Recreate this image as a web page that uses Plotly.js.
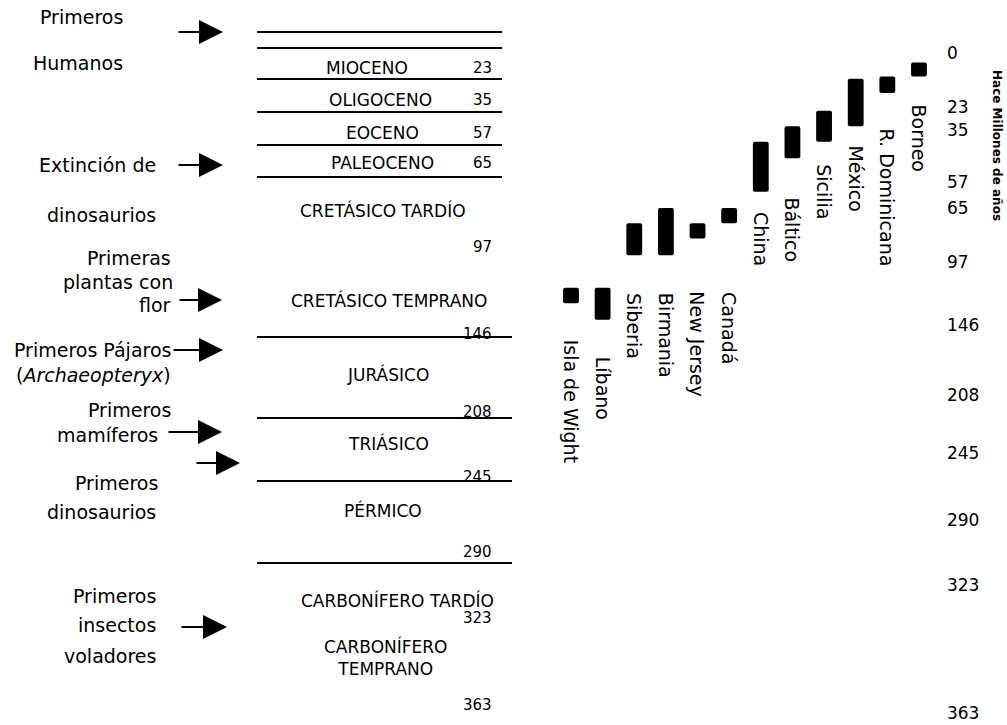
<!DOCTYPE html>
<html>
<head>
<meta charset="utf-8">
<script src="https://cdn.plot.ly/plotly-3.0.1.min.js"></script>
<style>html,body{margin:0;padding:0;background:#fff;}#chart{width:1007px;height:725px;}</style>
</head>
<body>
<div id="chart"></div>
<script>
// ---------------- DATA ----------------
// Amber deposits (left to right) and their age ranges, in millions of years
const deposits = ["Isla de Wight","Líbano","Siberia","Birmania","New Jersey","Canadá","China","Báltico","Sicilia","México","R. Dominicana","Borneo"];
const depositYoung = [117,117,74,65,74,65,40,33,25,11,10,4];
const depositOld   = [129,142,93,93,83,74,60,47,40,33,17,10];

// Age scale (right axis tick labels), Ma
const ageTicks = [0,23,35,57,65,97,146,208,245,290,323,363];

// Geological periods and the age of their base, Ma
const periods = ["MIOCENO","OLIGOCENO","EOCENO","PALEOCENO","CRETÁSICO TARDÍO","CRETÁSICO TEMPRANO","JURÁSICO","TRIÁSICO","PÉRMICO","CARBONÍFERO TARDÍO","CARBONÍFERO<br>TEMPRANO"];
const periodBase = [23,35,57,65,97,146,208,245,290,323,363];

// Events (text lines)
const eventLines = [
  ["Primeros","Humanos"],
  ["Extinción de","dinosaurios"],
  ["Primeras","plantas con","flor"],
  ["Primeros Pájaros","(<i>Archaeopteryx</i>)"],
  ["Primeros","mamíferos"],
  ["Primeros","dinosaurios"],
  ["Primeros","insectos","voladores"]
];
const axisTitle = "Hace Millones de años";

// ---------------- LAYOUT CONSTANTS (screen rows, px) ----------------
const TICK_ROW = [53,107,130,182,208,262,325,395,453,520,585,713];   // row of each age tick
function toAxis(age){
  for(let i=0;i<ageTicks.length-1;i++){
    if(age<=ageTicks[i+1]){
      const f=(age-ageTicks[i])/(ageTicks[i+1]-ageTicks[i]);
      return TICK_ROW[i]+f*(TICK_ROW[i+1]-TICK_ROW[i]);
    }
  }
  return TICK_ROW[TICK_ROW.length-1];
}
const LABEL_GAP = [35,35,36,36,51,67,18,37,20,17,34,26];
// left column rows: name x/y, number y, boundary line y (null = no line)
const ROWS = [
  {nx:367,ny:68,my:68,ly:79},{nx:380,ny:100,my:100,ly:112},{nx:382,ny:133,my:133,ly:145},
  {nx:382,ny:163,my:163,ly:177},{nx:383,ny:210,my:247,ly:null},{nx:389,ny:300,my:334,ly:337},
  {nx:388,ny:374,my:412,ly:418},{nx:388,ny:443,my:477,ly:481},{nx:383,ny:510,my:552,ly:563},
  {nx:397,ny:600,my:618,ly:null},{nx:386,ny:657,my:705,ly:null}
];
const TOP_LINES = [32,48];
const EVENT_POS = [
  [{x:81,y:17,a:'center'},{x:78,y:63,a:'center'}],
  [{x:158,y:165,a:'right'},{x:158,y:215,a:'right'}],
  [{x:173,y:258,a:'right'},{x:175,y:282,a:'right'},{x:173,y:305,a:'right'}],
  [{x:173,y:350,a:'right'},{x:173,y:375,a:'right'}],
  [{x:173,y:410,a:'right'},{x:160,y:435,a:'right'}],
  [{x:160,y:483,a:'right'},{x:158,y:512,a:'right'}],
  [{x:158,y:596,a:'right'},{x:158,y:625,a:'right'},{x:158,y:656,a:'right'}]
];
const ARROWS = [[177,223,32],[177,223,165],[178,222,300],[172,223,350],[167,222,432],[195,240,463],[180,227,627]];

const FONT = "DejaVu Sans, Verdana, sans-serif";

// ---------------- TRACES ----------------
const bars = {
  type:'bar', x:deposits,
  base: depositYoung.map(toAxis),
  y: depositOld.map((o,i)=>toAxis(o)-toAxis(depositYoung[i])),
  width:0.5, marker:{color:'#000', line:{width:0}, cornerradius:2},
  xaxis:'x', yaxis:'y', hoverinfo:'skip'
};

const lx=[], ly=[];
TOP_LINES.forEach(y=>{lx.push(257,502,null); ly.push(y,y,null);});
ROWS.forEach((r,i)=>{ if(r.ly!==null){ const x1 = periodBase[i]>100?512:502; lx.push(257,x1,null); ly.push(r.ly,r.ly,null);} });
const lines = {type:'scatter', mode:'lines', x:lx, y:ly, xaxis:'x2', yaxis:'y',
  line:{color:'#000', width:2}, hoverinfo:'skip'};

// ---------------- ANNOTATIONS ----------------
const ann = [];
periods.forEach((p,i)=>{
  ann.push({xref:'x2', yref:'y', x:ROWS[i].nx, y:ROWS[i].ny, text:p, showarrow:false,
    xanchor:'center', yanchor:'middle', font:{family:FONT,size:17,color:'#000'}});
  ann.push({xref:'x2', yref:'y', x:494, y:ROWS[i].my, text:String(periodBase[i]), showarrow:false,
    xanchor:'right', yanchor:'middle', font:{family:FONT,size:15,color:'#000'}});
});
eventLines.forEach((ls,i)=>{
  ls.forEach((t,j)=>{
    const p = EVENT_POS[i][j];
    ann.push({xref:'x2', yref:'y', x:p.x, y:p.y, text:t, showarrow:false,
      xanchor:p.a, yanchor:'middle', font:{family:FONT,size:19,color:'#000'}});
  });
});
ARROWS.forEach(a=>{
  ann.push({xref:'x2', yref:'y', x:a[1], y:a[2], ax:a[0], ay:a[2], axref:'x2', ayref:'y',
    text:'', showarrow:true, arrowhead:2, arrowsize:2.4, arrowwidth:2, arrowcolor:'#000', standoff:0});
});
deposits.forEach((d,i)=>{
  ann.push({xref:'x', yref:'y', x:d, y:toAxis(depositOld[i])+LABEL_GAP[i], text:d, showarrow:false,
    textangle:90, xanchor:'center', yanchor:'top', font:{family:FONT,size:19,color:'#000'}});
});
ann.push({xref:'paper', yref:'y', x:997/1007, y:145, text:'<b>'+axisTitle+'</b>', showarrow:false,
  textangle:90, xanchor:'center', yanchor:'middle', font:{family:FONT,size:12,color:'#000'}});

const layout = {
  width:1007, height:725, margin:{l:0,r:0,t:0,b:0,pad:0},
  paper_bgcolor:'#fff', plot_bgcolor:'rgba(0,0,0,0)', showlegend:false, hovermode:false,
  xaxis:{type:'category', categoryarray:deposits, domain:[0.5513,0.9283], range:[-0.5,11.5], visible:false, fixedrange:true},
  xaxis2:{range:[0,1007], domain:[0,1], anchor:'y', visible:false, fixedrange:true},
  yaxis:{range:[725,0], domain:[0,1], side:'right', anchor:'free', position:0.9394,
    tickmode:'array', tickvals:ageTicks.map(toAxis), ticktext:ageTicks.map(String),
    ticks:'', showgrid:false, zeroline:false, showline:false, fixedrange:true,
    tickfont:{family:FONT,size:17,color:'#000'}},
  annotations:ann
};
Plotly.newPlot('chart',[bars,lines],layout,{staticPlot:true,displayModeBar:false});
</script>
</body>
</html>
